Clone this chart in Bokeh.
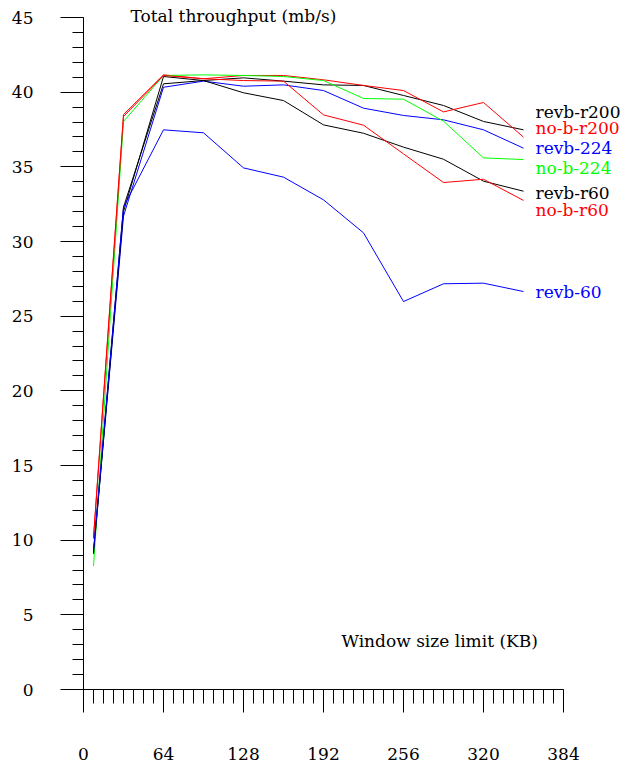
from bokeh.plotting import figure
from bokeh.models import FixedTicker, Range1d, ColumnDataSource
from bokeh.core.properties import value
from bokeh.embed import file_html
from bokeh.resources import INLINE

# Window size limit (KB) at which each throughput run was measured
window_kb = [8, 32, 64, 96, 128, 160, 192, 224, 256, 288, 320, 352]

# Total throughput (mb/s) per configuration
revb_r200 = [9.2, 32.3, 40.56, 40.78, 40.96, 40.74, 40.49, 40.45, 39.78, 39.11, 38.04, 37.48]
no_b_r200 = [10.2, 38.5, 41.16, 40.9, 41.12, 41.12, 40.83, 40.45, 40.11, 38.68, 39.31, 36.99]
revb_224 = [9.1, 31.7, 40.33, 40.74, 40.40, 40.49, 40.11, 38.93, 38.44, 38.15, 37.48, 36.25]
no_b_224 = [8.26, 38.04, 41.12, 41.16, 41.12, 41.05, 40.78, 39.58, 39.53, 38.06, 35.6, 35.49]
revb_r60 = [9.1, 32.0, 41.05, 40.78, 39.96, 39.44, 37.81, 37.25, 36.32, 35.51, 34.04, 33.37]
no_b_r60 = [10.1, 38.37, 41.12, 40.9, 40.78, 40.74, 38.48, 37.79, 35.87, 33.95, 34.17, 32.75]
revb_60 = [9.3, 32.3, 37.48, 37.28, 34.93, 34.31, 32.79, 30.58, 25.98, 27.17, 27.21, 26.65]

series_names = ["revb-r200", "no-b-r200", "revb-224", "no-b-224", "revb-r60", "no-b-r60", "revb-60"]
series_values = [revb_r200, no_b_r200, revb_224, no_b_224, revb_r60, no_b_r60, revb_60]
series_colors = ["#000000", "#ff0000", "#0000ff", "#00ff00", "#000000", "#ff0000", "#0000ff"]

# where each series name is written, right of the curves
name_x = 361.6
name_y = [38.64, 37.57, 36.23, 34.92, 33.28, 32.11, 26.59]

x_major = [0, 64, 128, 192, 256, 320, 384]
x_minor = list(range(0, 385, 8))
y_major = [0, 5, 10, 15, 20, 25, 30, 35, 40, 45]
y_minor = list(range(0, 46))

FONT = "DejaVu Serif"
AXIS_FONT = "'DejaVu Serif', serif"
SIZE = "17px"

p = figure(width=632, height=765, output_backend="svg", toolbar_location=None,
           x_range=Range1d(0, 439.2), y_range=Range1d(0, 46.14),
           min_border_left=83, min_border_right=0, min_border_top=0, min_border_bottom=76)
p.outline_line_color = None
p.xgrid.visible = False
p.ygrid.visible = False
p.background_fill_color = "white"
p.border_fill_color = "white"

for vals, col in zip(series_values, series_colors):
    p.line(window_kb, vals, line_color=col, line_width=1)

src = ColumnDataSource(dict(x=[name_x] * len(series_names), y=name_y,
                            t=series_names, c=series_colors))
p.text("x", "y", text="t", source=src, text_color="c", text_font=value(FONT),
       text_font_size=SIZE, text_align="left", text_baseline="middle")

# axis titles written inside the plotting area
p.text([37.6], [45.1], text=["Total throughput (mb/s)"], text_font=value(FONT),
       text_font_size=SIZE, text_align="left", text_baseline="middle", text_color="black")
p.text([206.4], [3.28], text=["Window size limit (KB)"], text_font=value(FONT),
       text_font_size=SIZE, text_align="left", text_baseline="middle", text_color="black")

xa = p.xaxis[0]
xa.bounds = (0, 384)
xa.ticker = FixedTicker(ticks=x_major, minor_ticks=x_minor)
xa.major_tick_out = 23
xa.major_tick_in = 0
xa.minor_tick_out = 14
xa.minor_tick_in = 0
xa.major_label_standoff = 35
xa.major_label_text_font = AXIS_FONT
xa.major_label_text_font_size = SIZE
xa.major_label_text_color = "black"
xa.axis_line_color = "black"
xa.major_tick_line_color = "black"
xa.minor_tick_line_color = "black"

ya = p.yaxis[0]
ya.bounds = (0, 45)
ya.ticker = FixedTicker(ticks=y_major, minor_ticks=y_minor)
ya.major_tick_out = 23
ya.major_tick_in = 0
ya.minor_tick_out = 11
ya.minor_tick_in = 0
ya.major_label_standoff = 27
ya.major_label_text_font = AXIS_FONT
ya.major_label_text_font_size = SIZE
ya.major_label_text_color = "black"
ya.axis_line_color = "black"
ya.major_tick_line_color = "black"
ya.minor_tick_line_color = "black"

open("out.html", "w").write(file_html(p, INLINE))
